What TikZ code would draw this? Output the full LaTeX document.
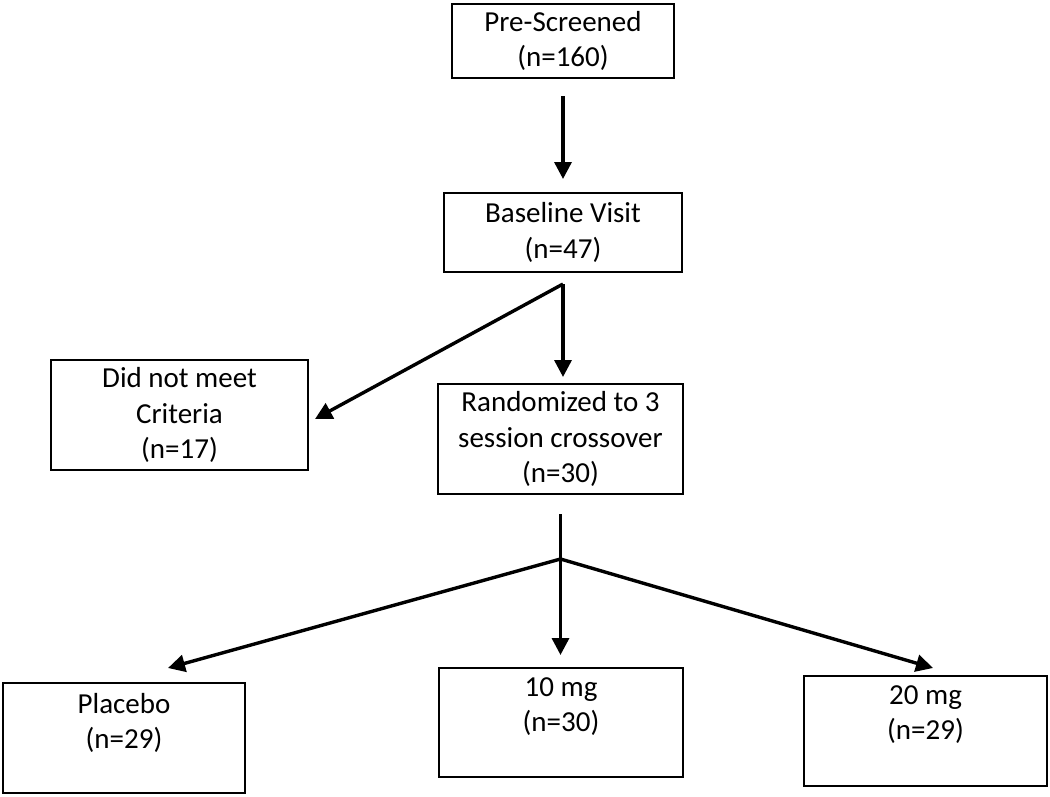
\documentclass[tikz,border=0pt]{standalone}
\usepackage{fontspec}
\setmainfont{Carlito}
\usetikzlibrary{arrows.meta,calc}
\tikzset{
  box/.style={draw=black, line width=2pt, inner sep=0pt, align=center, font=\fontsize{29}{35.5}\selectfont},
  txt/.style={inner sep=0pt, align=center, font=\fontsize{29}{35.5}\selectfont},
  arr/.style={line width=3.4pt, -{Triangle[length=17pt,width=17pt]}},
  ln/.style={line width=3.4pt}
}
\begin{document}
\begin{tikzpicture}[x=1pt,y=-1pt]
\useasboundingbox[fill=white] (0,0) rectangle (1050,796);
\node[box, minimum width=222pt, minimum height=74pt] (pre) at (563,41) {Pre-Screened\\(n=160)};
\node[box, minimum width=238pt, minimum height=79pt] (base) at (563,232.5) {Baseline Visit\\(n=47)};
\node[box, minimum width=257pt, minimum height=110pt] (dnm) at (179.5,415) {Did not meet\\Criteria\\(n=17)};
\node[box, minimum width=245pt, minimum height=110pt] (rand) at (560.5,439) {Randomized to 3\\session crossover\\(n=30)};
\node[box, minimum width=242pt, minimum height=110pt] (placebo) at (124,738) {};
\node[box, minimum width=244pt, minimum height=109pt] (ten) at (561,722.5) {};
\node[box, minimum width=243pt, minimum height=110pt] (twenty) at (925.5,731) {};
\node[txt, anchor=north] (placebotxt) at ([yshift=-11pt]placebo.north) {Placebo\\(n=29)};
\node[txt, anchor=north] (tentxt) at ([yshift=-10pt]ten.north) {10 mg\\(n=30)};
\node[txt, anchor=north] (twentytxt) at ([yshift=-10pt]twenty.north) {20 mg\\(n=29)};
% arrows
\draw[arr] ([yshift=-17pt]pre.south) -- ([yshift=13pt]base.north);
\coordinate (s1) at ([yshift=-11pt]base.south);
\draw[arr] (s1) -- ($(s1 |- rand.north)+(0,-6)$);
\draw[arr] (s1) -- ([xshift=6pt,yshift=-4pt]dnm.east);
\coordinate (s2) at ([yshift=-19pt]rand.south);
\coordinate (br) at ([yshift=-64pt]rand.south);
\draw[ln] (s2) -- (br);
\draw[arr] (br) -- ([xshift=44pt,yshift=14pt]placebo.north);
\draw[arr] (br) -- ($(br |- ten.north)+(0,-12)$);
\draw[arr] (br) -- ([xshift=7.5pt,yshift=7pt]twenty.north);
\end{tikzpicture}
\end{document}
